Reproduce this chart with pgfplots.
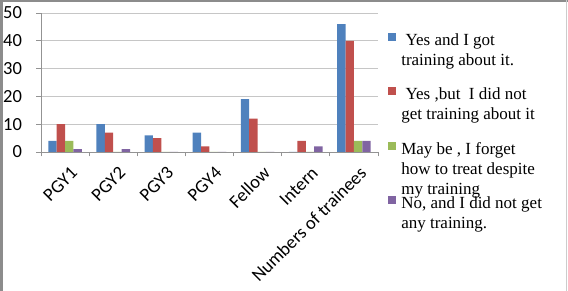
\documentclass[border=0pt]{standalone}
\usepackage{pgfplots}
\pgfplotsset{compat=1.18}
\usepackage{fontspec}
\setmainfont{Liberation Serif}
\newfontfamily\calibri{Carlito}
\definecolor{xlblue}{HTML}{4F81BD}
\definecolor{xlred}{HTML}{C0504D}
\definecolor{xlgreen}{HTML}{9BBB59}
\definecolor{xlpurple}{HTML}{8064A2}
\pgfplotsset{sq legend/.style={legend image code/.code={\fill[##1] (0pt,-2pt) rectangle (8pt,6pt);}}}
\newcommand{\lent}[1]{\raisebox{0pt}[14pt][0pt]{\parbox[t]{165pt}{#1}}}
\begin{document}
\begin{tikzpicture}
\useasboundingbox (-41pt,-139pt) rectangle (527pt,152pt);
\draw[color=gray!90, line width=3pt] (-39.5pt,-139pt) -- (-39.5pt,150.8pt);
\draw[color=gray!90, line width=2.4pt] (-41pt,150.8pt) -- (527pt,150.8pt);
\draw[color=gray!40, line width=1.2pt] (525.5pt,-139pt) -- (525.5pt,152pt);
\begin{axis}[
  at={(0pt,0pt)}, anchor=south west,
  scale only axis, width=337pt, height=139pt,
  xmin=-0.5, xmax=6.5, ymin=0, ymax=50,
  ybar=0pt, bar width=8.4pt,
  axis lines*=left,
  axis line style={color=gray!85, line width=0.8pt},
  xtick={-0.5,0.5,...,6.5},
  x tick label as interval,
  xticklabels={PGY1,PGY2,PGY3,PGY4,Fellow,Intern,Numbers of trainees},
  ytick={0,10,...,50},
  tick align=outside,
  major tick length=4.5pt,
  tick style={color=gray!85, line width=0.8pt},
  ymajorgrids,
  grid style={color=gray!45, line width=0.8pt},
  /pgf/number format/assume math mode=true,
  tick label style={font=\calibri\fontsize{18.5}{21}\selectfont, text=black},
  yticklabel style={xshift=-11pt},
  xticklabel style={rotate=45, anchor=east, inner sep=0pt, xshift=-3pt, yshift=-16pt},
  legend style={at={(rel axis cs:1.03,0.885)}, anchor=north west, draw=none, fill=none,
    inner sep=0pt, row sep=35pt, column sep=3pt,
    font=\fontsize{17}{20}\selectfont},
  legend cell align=left,
]
\addplot[fill=xlblue, draw=none, sq legend] coordinates {(0,4) (1,10) (2,6) (3,7) (4,19) (5,0) (6,46)};
\addlegendentry{\lent{\ Yes and I got\\training about it.}}
\addplot[fill=xlred, draw=none, sq legend] coordinates {(0,10) (1,7) (2,5) (3,2) (4,12) (5,4) (6,40)};
\addlegendentry{\lent{\ Yes ,but\ \ I did not\\get training about it}}
\addplot[fill=xlgreen, draw=none, sq legend] coordinates {(0,4) (1,0) (2,0) (3,0) (4,0) (5,0) (6,4)};
\addlegendentry{\lent{May be , I forget\\how to treat despite\\my training}}
\addplot[fill=xlpurple, draw=none, sq legend] coordinates {(0,1) (1,1) (2,0) (3,0) (4,0) (5,2) (6,4)};
\addlegendentry{\lent{No, and I did not get\\any training.}}
\end{axis}
\end{tikzpicture}
\end{document}
